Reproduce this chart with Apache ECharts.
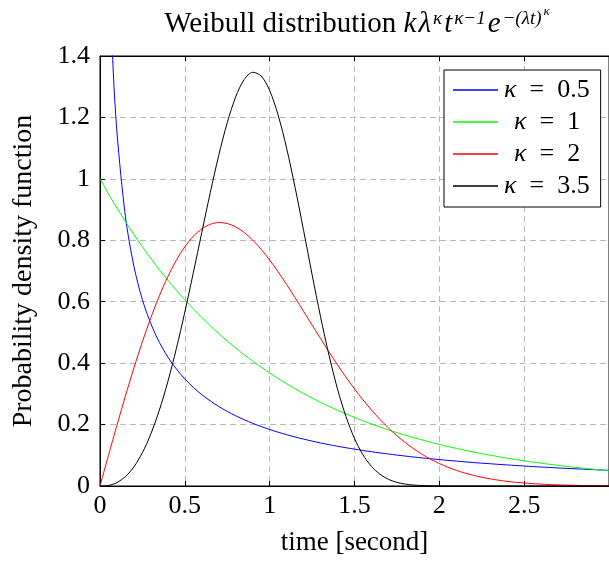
<!DOCTYPE html>
<html style="height: 100%">
<head>
    <meta charset="utf-8">
    <title>Weibull distribution</title>
</head>
<body style="height: 100%; margin: 0; background: #fff">
<div id="container" style="width: 609px; height: 562px"></div>
<script type="text/javascript" src="https://cdn.jsdelivr.net/npm/echarts@6/dist/echarts.min.js"></script>
<script type="text/javascript">
    var chart = echarts.init(document.getElementById('container'));

    // time samples [second]
    var t = [0, 0.025, 0.05, 0.075, 0.1, 0.15, 0.2, 0.25, 0.3, 0.35, 0.4, 0.45, 0.5, 0.55, 0.6, 0.65, 0.7, 0.75,
        0.8, 0.85, 0.9, 0.95, 1.0, 1.05, 1.1, 1.15, 1.2, 1.25, 1.3, 1.35, 1.4, 1.45, 1.5, 1.55, 1.6, 1.65, 1.7,
        1.75, 1.8, 1.85, 1.9, 1.95, 2.0, 2.05, 2.1, 2.15, 2.2, 2.25, 2.3, 2.35, 2.4, 2.45, 2.5, 2.55, 2.6, 2.65,
        2.7, 2.75, 2.8, 2.85, 2.9, 2.95, 3.0];

    var k05 = [null, 2.700, 1.788, 1.388, 1.152, 0.8765, 0.7149, 0.6065, 0.5279, 0.4677, 0.4200, 0.3811, 0.3487,
        0.3212, 0.2975, 0.2769, 0.2589, 0.2428, 0.2286, 0.2157, 0.2041, 0.1936, 0.1839, 0.1751, 0.1670, 0.1595,
        0.1526, 0.1462, 0.1402, 0.1346, 0.1294, 0.1245, 0.1200, 0.1156, 0.1116, 0.1077, 0.1041, 0.1007, 0.0974,
        0.0943, 0.0914, 0.0886, 0.0860, 0.0834, 0.0810, 0.0787, 0.0765, 0.0744, 0.0724, 0.0704, 0.0686, 0.0668,
        0.0651, 0.0634, 0.0618, 0.0603, 0.0588, 0.0574, 0.0561, 0.0548, 0.0535, 0.0523, 0.0511];

    var k1 = [1, 0.9753, 0.9512, 0.9277, 0.9048, 0.8607, 0.8187, 0.7788, 0.7408, 0.7047, 0.6703, 0.6376, 0.6065,
        0.5769, 0.5488, 0.5220, 0.4966, 0.4724, 0.4493, 0.4274, 0.4066, 0.3867, 0.3679, 0.3499, 0.3329, 0.3166,
        0.3012, 0.2865, 0.2725, 0.2592, 0.2466, 0.2346, 0.2231, 0.2122, 0.2019, 0.1920, 0.1827, 0.1738, 0.1653,
        0.1572, 0.1496, 0.1423, 0.1353, 0.1287, 0.1225, 0.1165, 0.1108, 0.1054, 0.1003, 0.0954, 0.0907, 0.0863,
        0.0821, 0.0781, 0.0743, 0.0707, 0.0672, 0.0639, 0.0608, 0.0578, 0.0550, 0.0523, 0.0498];

    var k2 = [0, 0.0500, 0.0998, 0.1492, 0.1980, 0.2933, 0.3843, 0.4697, 0.5484, 0.6193, 0.6817, 0.7350, 0.7788,
        0.8129, 0.8372, 0.8520, 0.8577, 0.8547, 0.8437, 0.8254, 0.8007, 0.7705, 0.7358, 0.6973, 0.6561, 0.6129,
        0.5686, 0.5240, 0.4798, 0.4364, 0.3944, 0.3542, 0.3162, 0.2805, 0.2474, 0.2168, 0.1890, 0.1637, 0.1410,
        0.1207, 0.1028, 0.0870, 0.0733, 0.0613, 0.0511, 0.0423, 0.0348, 0.0285, 0.0232, 0.0188, 0.0151, 0.0121,
        0.0097, 0.0077, 0.0060, 0.0047, 0.0037, 0.0029, 0.0022, 0.0017, 0.0013, 0.0010, 0.0007];

    var k35 = [0, 0.0003, 0.0020, 0.0054, 0.0111, 0.0305, 0.0624, 0.1085, 0.1700, 0.2473, 0.3401, 0.4473, 0.5664,
        0.6941, 0.8256, 0.9554, 1.0769, 1.1831, 1.2673, 1.3235, 1.3469, 1.3349, 1.2876, 1.2074, 1.0997, 0.9717,
        0.8317, 0.6887, 0.5508, 0.4250, 0.3157, 0.2256, 0.1546, 0.1015, 0.0638, 0.0382, 0.0218, 0.0118, 0.0061,
        0.0030, 0.0014, 0.0006, 0.0002, 0.0001, 0, 0, 0, 0, 0, 0, 0, 0,
        0, 0, 0, 0, 0, 0, 0, 0, 0, 0, 0];

    var kappas = ['0.5', '1', '2', '3.5'];
    var kappaNames = kappas.map(function (k) { return 'κ = ' + k; });
    var colors = ['#0000ff', '#00ff00', '#ff0000', '#000000'];
    var values = [k05, k1, k2, k35];

    var serif = 'Liberation Serif';

    function pairs(ys) {
        var out = [];
        for (var i = 0; i < t.length; i++) {
            if (ys[i] !== null) out.push([t[i], ys[i]]);
        }
        return out;
    }

    var series = values.map(function (ys, i) {
        return {
            name: kappaNames[i],
            type: 'line',
            data: pairs(ys),
            symbol: 'none',
            smooth: 0.3,
            clip: true,
            lineStyle: {color: colors[i], width: 1},
            itemStyle: {color: colors[i]}
        };
    });

    var gridLine = {show: true, lineStyle: {color: '#b9b9b9', type: [6, 4], width: 1}};

    function tx(size, italic, padB, padR) {
        return {
            fontFamily: serif, fontSize: size, fontWeight: 'normal', color: '#000',
            fontStyle: italic ? 'italic' : 'normal', verticalAlign: 'bottom',
            padding: [0, padR || 0, padB || 0, 0]
        };
    }

    var option = {
        animation: false,
        backgroundColor: '#fff',
        title: {
            text: '{n|Weibull distribution }{i|k}{i|λ}{s|κ}{i|t}{s|κ−1}{i|e}{s|−(λt)}{ss|κ}',
            left: 352,
            textAlign: 'center',
            top: 0,
            textStyle: {
                fontWeight: 'normal',
                rich: {
                    n: tx(29, false),
                    i: tx(29, true, 0, 2),
                    s: tx(19, true, 11, 2),
                    ss: tx(13, true, 21)
                }
            }
        },
        legend: {
            orient: 'vertical',
            left: 444,
            top: 70,
            padding: [7, 11, 8, 9],
            itemGap: 6,
            itemWidth: 45,
            itemHeight: 1.5,
            icon: 'rect',
            backgroundColor: '#fff',
            borderColor: '#000',
            borderWidth: 1,
            borderRadius: 0,
            data: kappaNames,
            formatter: function (name) {
                var k = name.replace('κ = ', '');
                var pad = k.length === 1 ? 'p' : 'q';
                return '{' + pad + '|κ}{c|  =  ' + k + '}';
            },
            textStyle: {
                rich: {
                    q: {fontFamily: serif, fontSize: 26, fontStyle: 'italic', color: '#000', lineHeight: 26, padding: [0, 0, 0, 1]},
                    p: {fontFamily: serif, fontSize: 26, fontStyle: 'italic', color: '#000', lineHeight: 26, padding: [0, 0, 0, 11]},
                    c: {fontFamily: serif, fontSize: 26, color: '#000', lineHeight: 26}
                }
            }
        },
        grid: {
            left: 100,
            top: 56,
            right: -8,
            bottom: 76,
            show: true,
            borderColor: '#000',
            borderWidth: 1
        },
        xAxis: [{
            type: 'value',
            min: 0,
            max: 3,
            interval: 0.5,
            name: 'time [second]',
            nameLocation: 'middle',
            nameGap: 43,
            nameTextStyle: {fontFamily: serif, fontSize: 27, color: '#000'},
            axisLine: {lineStyle: {color: '#000', width: 1}},
            axisTick: {inside: true, length: 5, lineStyle: {color: '#000'}},
            axisLabel: {fontFamily: serif, fontSize: 26, color: '#000', margin: 7, showMaxLabel: false},
            splitLine: gridLine
        }, {
            type: 'value',
            position: 'top',
            min: 0,
            max: 3,
            interval: 0.5,
            axisLine: {lineStyle: {color: '#000', width: 1}},
            axisTick: {inside: true, length: 5, lineStyle: {color: '#000'}},
            axisLabel: {show: false},
            splitLine: {show: false}
        }],
        yAxis: {
            type: 'value',
            min: 0,
            max: 1.4,
            interval: 0.2,
            name: 'Probability density function',
            nameLocation: 'middle',
            nameGap: 62,
            nameTextStyle: {fontFamily: serif, fontSize: 28, color: '#000'},
            axisLine: {show: true, lineStyle: {color: '#000', width: 1}},
            axisTick: {show: true, inside: true, length: 5, lineStyle: {color: '#000'}},
            axisLabel: {fontFamily: serif, fontSize: 26, color: '#000', margin: 10},
            splitLine: gridLine
        },
        series: series
    };

    chart.setOption(option);
</script>
</body>
</html>
